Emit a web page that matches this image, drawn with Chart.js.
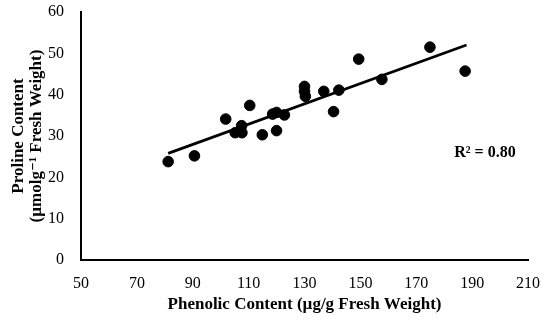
<!DOCTYPE html>
<html>
<head>
<meta charset="utf-8">
<script src="https://cdn.jsdelivr.net/npm/chart.js"></script>
<style>
  body { margin: 0; background: #fff; }
  #wrap { width: 550px; height: 328px; }
</style>
</head>
<body>
<div id="wrap"><canvas id="chart1" width="550" height="328"></canvas></div>
<script>
// phenolic (x) vs proline (y)
const phenolic = [81.2, 90.6, 101.8, 110.4, 105.2, 107.5, 107.6, 114.9, 118.6, 120.0, 122.8, 120.0,
  130.0, 130.0, 130.3, 136.9, 142.3, 140.4, 149.4, 157.7, 174.9, 187.5];
const proline = [23.8, 25.2, 34.1, 37.4, 30.8, 32.5, 30.8, 30.3, 35.3, 35.7, 35.1, 31.3,
  42.0, 40.8, 39.6, 40.8, 41.1, 35.9, 48.6, 43.7, 51.5, 45.7];

// trend line end points
const trendX = [81.2, 188];
const trendY = [25.8, 52.0];

const xTicks = [50, 70, 90, 110, 130, 150, 170, 190, 210];
const yTicks = [0, 10, 20, 30, 40, 50, 60];

const rSquaredLabel = 'R² = 0.80';

const FONT = 'Liberation Serif, "DejaVu Serif", serif';

const r2Plugin = {
  id: 'r2label',
  afterDatasetsDraw(chart) {
    const { ctx, scales } = chart;
    ctx.save();
    ctx.font = 'bold 16px ' + FONT;
    ctx.fillStyle = '#000';
    ctx.textAlign = 'center';
    ctx.textBaseline = 'middle';
    ctx.fillText(rSquaredLabel, scales.x.getPixelForValue(194.6), scales.y.getPixelForValue(25.9));
    ctx.restore();
  }
};

const ctx = document.getElementById('chart1');
new Chart(ctx, {
  type: 'scatter',
  data: {
    datasets: [
      {
        label: 'Proline',
        data: phenolic.map((x, i) => ({ x: x, y: proline[i] })),
        backgroundColor: '#000',
        borderColor: '#000',
        pointRadius: 5.3,
        pointHoverRadius: 5.3,
      },
      {
        label: 'Trend',
        type: 'line',
        data: trendX.map((x, i) => ({ x: x, y: trendY[i] })),
        borderColor: '#000',
        borderWidth: 2.7,
        pointRadius: 0,
        fill: false,
      },
    ],
  },
  options: {
    responsive: false,
    animation: false,
    layout: { padding: { top: 12, right: 22, left: 0, bottom: 0 } },
    plugins: {
      legend: { display: false },
      tooltip: { enabled: false },
    },
    scales: {
      x: {
        type: 'linear',
        min: 50,
        max: 210,
        afterBuildTicks: s => { s.ticks = xTicks.map(v => ({ value: v })); },
        afterFit: s => { s.height = 68; s.paddingLeft = 0; s.paddingRight = 0; },
        grid: { display: false, drawTicks: false },
        border: { display: true, color: '#000', width: 2 },
        ticks: { color: '#000', font: { family: FONT, size: 16 }, padding: 14 },
        title: {
          display: true,
          text: 'Phenolic Content (µg/g Fresh Weight)',
          color: '#000',
          font: { family: FONT, size: 17, weight: 'bold' },
          padding: { top: 4, bottom: 13 },
        },
      },
      y: {
        min: 0,
        max: 60,
        afterBuildTicks: s => { s.ticks = yTicks.map(v => ({ value: v })); },
        afterFit: s => { s.width = 81; s.paddingTop = 0; s.paddingBottom = 0; },
        grid: { display: false, drawTicks: false },
        border: { display: true, color: '#000', width: 2 },
        ticks: { color: '#000', font: { family: FONT, size: 16 }, padding: 17 },
        title: {
          display: true,
          text: ['Proline Content', '(µmolg⁻¹ Fresh Weight)'],
          color: '#000',
          font: { family: FONT, size: 17, weight: 'bold', lineHeight: 1.08 },
          padding: { top: 9, bottom: 0 },
        },
      },
    },
  },
  plugins: [r2Plugin],
});
</script>
</body>
</html>
